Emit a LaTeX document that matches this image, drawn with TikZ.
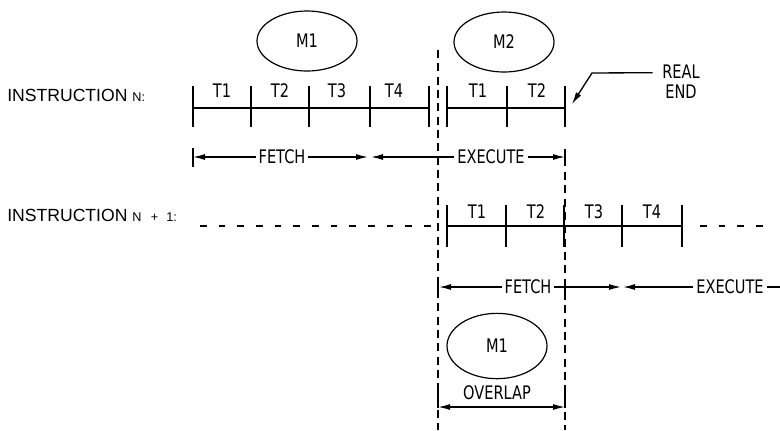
\documentclass[tikz,border=0pt]{standalone}
\usepackage{fontspec}
\setmainfont{Liberation Sans}
\newfontfamily\stepfont[FakeStretch=0.78]{DejaVu Sans}
\usetikzlibrary{
	shapes.geometric,   %椭圆
	positioning,        %定位
	arrows.meta         %箭头
}
\tikzset{
	every picture/.style={
		>={Latex[length=9pt,width=4.5pt]},
		x=0.75pt, y=-0.75pt
}}
\tikzset{
	slot/.style={font=\stepfont\fontsize{14}{15}\selectfont, inner sep=2pt},
	bar/.style={line width=1.9pt},
	tickmark/.style={line width=0.9pt},
	span/.style={line width=1pt},
	memory/.style={ellipse, draw, line width=0.9pt, minimum width=75pt,
		minimum height=45pt, font=\stepfont\fontsize{14}{15}\selectfont},
	bound/.style={line width=0.9pt, dash pattern=on 6pt off 4pt},
	lead/.style={line width=0.9pt, dash pattern=on 5pt off 9pt},
	rowname/.style={anchor=west, inner sep=0pt, font=\fontsize{13.2}{15}\selectfont}
}
\newcommand{\smallcap}[1]{{\fontsize{9.5}{10}\selectfont #1}}

\begin{document}
\begin{tikzpicture}
\useasboundingbox (0,0) rectangle (780,430);
% 存储器访问
\node[memory] (m1top) at (307,41) {M1};
\node[memory] (m2) at (504,42) {M2};
\node[memory, minimum height=49pt] (m1low) at (497,346) {M1};

% 指令 N
\node[rowname] (instN) at (7,95) {INSTRUCTION \smallcap{N:}};
\draw[bar] (193,108) -- (429,108);
\draw[bar] (447,108) -- (565,108);
\foreach \x in {193,251,309,370,429,447,507,565}
	\draw[tickmark] (\x,86) -- (\x,127);
\foreach \x/\t [count=\i] in {222/T1,280/T2,337/T3,394/T4,478/T1,537/T2}
	\node[slot] (nT\i) at (\x,91) {\t};

\node[slot] (fetchN) at (282,157) {FETCH};
\draw[span,->] (fetchN.west) -- (193,157);
\draw[span,->] (fetchN.east) -- (368,157);
\node[slot] (execN) at (491,157) {EXECUTE};
\draw[span,->] (execN.west) -- (371,157);
\draw[span,->] (execN.east) -- (565,157);
\draw[tickmark] (193,148) -- (193,167);
\draw[tickmark] (565,149) -- (565,166);

% 指令 N+1
\node[rowname] (instM) at (7,215) {INSTRUCTION \smallcap{N\hspace{7pt}+\hspace{6pt}1:}};
\draw[lead] (200,226) -- (437,226);
\draw[bar] (447,226) -- (682,226);
\draw[lead] (700,226) -- (772,226);
\foreach \x in {447,506,564,622,682}
	\draw[tickmark] (\x,205) -- (\x,247);
\foreach \x/\t [count=\i] in {477/T1,536/T2,594/T3,652/T4}
	\node[slot] (mT\i) at (\x,212) {\t};

\node[slot] (fetchM) at (528,287) {FETCH};
\draw[span,->] (fetchM.west) -- (439,287);
\draw[span,->] (fetchM.east) -- (621,287);
\node[slot] (execM) at (730,287) {EXECUTE};
\draw[span,->] (execM.west) -- (623,287);
\draw[span] (execM.east) -- (780,287);
\draw[tickmark] (438,282) -- (438,293);
\draw[tickmark] (565,282) -- (565,293);

% 重叠区
\draw[bound] (438,50) -- (438,430);
\draw[bound] (565,172) -- (565,430);
\node[slot] (overlap) at (497,393) {OVERLAP};
\draw[span,<->] (438,407) -- (565,407);
\draw[tickmark] (438,385) -- (438,408);
\draw[tickmark] (565,385) -- (565,408);

% 真正结束
\node[slot, align=center] (realend) at (681,82) {REAL\\END};
\coordinate (realtip) at (572,104);
\draw[span,->] ([xshift=-5pt,yshift=7pt]realend.west) -- (592,73) -- (realtip);
\end{tikzpicture}
\end{document}
